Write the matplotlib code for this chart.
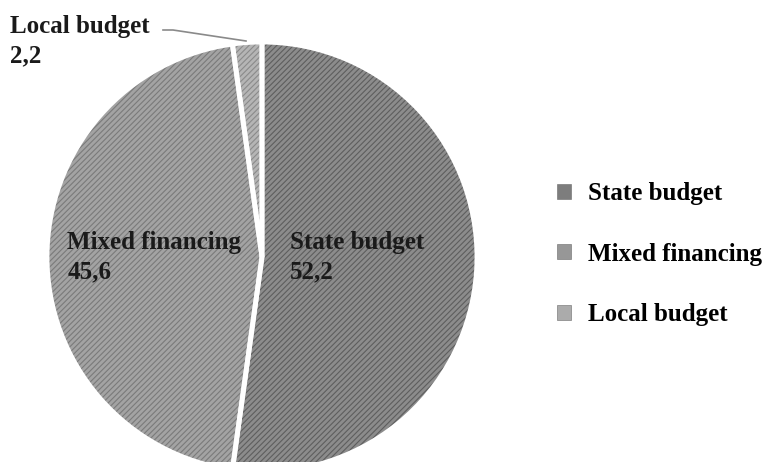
import matplotlib.pyplot as plt
from matplotlib.patches import Rectangle

categories = ["State budget", "Mixed financing", "Local budget"]
values = [52.2, 45.6, 2.2]
value_labels = ["52,2", "45,6", "2,2"]

face_colors = ["#8c8c8c", "#a3a3a3", "#b5b5b5"]
hatch_colors = ["#5e5e5e", "#7a7a7a", "#8a8a8a"]
legend_colors = ["#7d7d7d", "#979797", "#ababab"]

plt.rcParams["font.family"] = ["Liberation Serif", "DejaVu Serif"]
plt.rcParams["font.weight"] = "bold"
plt.rcParams["hatch.linewidth"] = 0.8

W, H = 767, 462
fig = plt.figure(figsize=(W / 100, H / 100), dpi=100)

# pie centre (262, 257) px, radius 215 px
cx, cy, r = 262, 257, 215
ax = fig.add_axes([(cx - r) / W, (H - cy - r) / H, 2 * r / W, 2 * r / H])

wedges, _ = ax.pie(values, startangle=90, counterclock=False, radius=1,
                   colors=face_colors, wedgeprops=dict(linewidth=0))
for w, hc in zip(wedges, hatch_colors):
    w.set_hatch("//////")
    w.set_edgecolor(hc)
    w.set_linewidth(0)

# white separators on top
ax.pie(values, startangle=90, counterclock=False, radius=1,
       colors=["none"] * 3,
       wedgeprops=dict(linewidth=3.5, edgecolor="white", fill=False))
ax.set_xlim(-1, 1)
ax.set_ylim(-1, 1)
ax.axis("off")

fs = 18
ls = 1.38
ax.text(0.13, 0.0, categories[0] + "\n" + value_labels[0], fontsize=fs,
        color="#1a1a1a", va="center", ha="left", linespacing=ls)
ax.text(-0.905, 0.0, categories[1] + "\n" + value_labels[1], fontsize=fs,
        color="#1a1a1a", va="center", ha="left", linespacing=ls)

fig.text(10 / W, 1 - 41 / H, categories[2] + "\n" + value_labels[2], fontsize=fs,
         color="#1a1a1a", va="center", ha="left", linespacing=ls)
fig.add_artist(plt.Line2D([163 / W, 173 / W, 246 / W],
                          [1 - 30 / H, 1 - 30 / H, 1 - 41 / H],
                          color="#8a8a8a", lw=1.2))

handles = [Rectangle((0, 0), 1, 1, facecolor=c, edgecolor="#6a6a6a", lw=0.4)
           for c in legend_colors]
fig.legend(handles, categories, loc="center left",
           bbox_to_anchor=(557 / W, 1 - 254 / H), frameon=False,
           borderaxespad=0, borderpad=0,
           fontsize=fs, handlelength=0.55, handleheight=0.55,
           handletextpad=0.7, labelspacing=1.5)

fig.savefig("out.png", dpi=100)
